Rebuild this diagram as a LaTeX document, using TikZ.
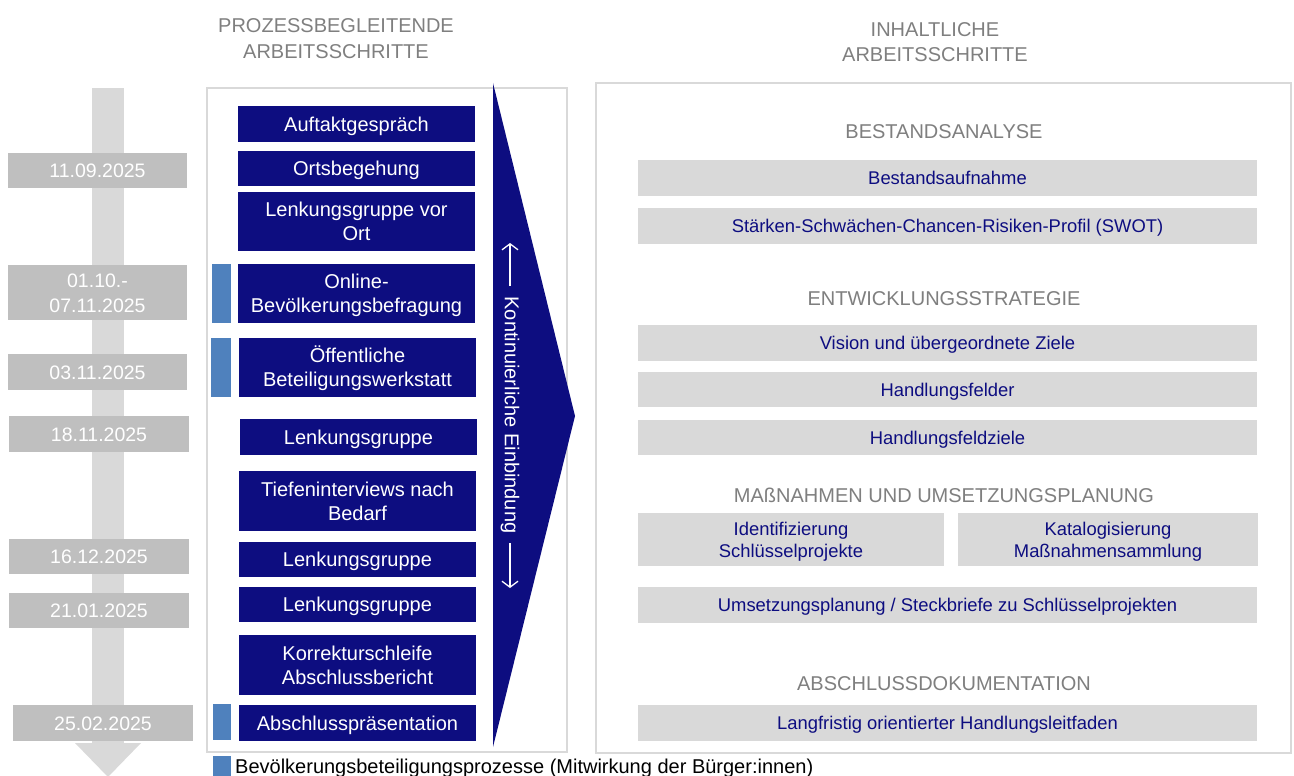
\documentclass[tikz,border=0pt]{standalone}
\usepackage{fontspec}
\setmainfont{Liberation Sans}
\usetikzlibrary{arrows.meta}
\definecolor{navy}{RGB}{13,13,128}
\definecolor{partblue}{RGB}{79,129,189}
\definecolor{bargray}{RGB}{217,217,217}
\definecolor{dategray}{RGB}{191,191,191}
\definecolor{hdgray}{RGB}{127,127,127}
\definecolor{boxgray}{RGB}{217,217,217}
\definecolor{framegray}{RGB}{217,217,217}
\newcommand{\bx}[7]{\node[#2,minimum width={(#5-#3)*1pt},minimum height={(#6-#4)*1pt}] (#1) at ({(#3+#5)/2},{(#4+#6)/2}) {#7};}
\newcommand{\tl}[2]{\begin{tabular}[t]{@{}c@{}}#1\\#2\end{tabular}}
\begin{document}
\begin{tikzpicture}[x=1pt,y=-1pt,
  bluebox/.style={fill=navy,text=white,inner sep=0pt,font=\fontsize{20}{24}\selectfont,text height=14.3pt,text depth=0pt},
  bluebox2/.style={bluebox,text depth=24pt},
  datebox/.style={fill=dategray,text=white,inner sep=0pt,font=\fontsize{19.5}{25}\selectfont,text height=14pt,text depth=0pt},
  datebox2/.style={datebox,text depth=25pt},
  graybox/.style={fill=boxgray,text=navy,inner sep=0pt,font=\fontsize{18.4}{22}\selectfont,text height=13.4pt,text depth=0pt},
  graybox2/.style={graybox,text depth=22pt},
  partmark/.style={fill=partblue,inner sep=0pt},
  hd/.style={text=hdgray,inner sep=0pt,anchor=base,font=\fontsize{20}{25.5}\selectfont},
  frame/.style={draw=framegray,line width=1.2pt,fill=white},
  warrow/.style={white,line width=1.3pt,-{Straight Barb[length=6pt,width=16pt]}}
]
\useasboundingbox (0,0) rectangle (1294,776);

% headers
\node[hd] (hleft) at (336,33) {\tl{PROZESSBEGLEITENDE}{ARBEITSSCHRITTE}};
\node[hd,font=\fontsize{20}{24.7}\selectfont] (hright) at (935,37) {\tl{INHALTLICHE}{ARBEITSSCHRITTE}};

% frames
\draw[frame] (207,88) rectangle (567,752);
\draw[frame] (596,83) rectangle (1291,753);

% timeline
\fill[bargray] (92,88) rectangle (124,744);
\fill[bargray] (75,743) -- (141,743) -- (108,777) -- cycle;

% dates
\bx{d1}{datebox}{8}{153}{187}{188}{11.09.2025}
\bx{d2}{datebox2}{8}{265}{187}{320}{\tl{01.10.-}{07.11.2025}}
\bx{d3}{datebox}{8}{354}{187}{390}{03.11.2025}
\bx{d4}{datebox}{9}{416}{189}{452}{18.11.2025}
\bx{d5}{datebox}{9}{539}{189}{574}{16.12.2025}
\bx{d6}{datebox}{9}{593}{189}{628}{21.01.2025}
\bx{d7}{datebox}{13}{705}{193}{741}{25.02.2025}

% process boxes
\bx{b1}{bluebox}{238}{106}{475}{142}{Auftaktgespräch}
\bx{b2}{bluebox}{238}{151}{475}{186}{Ortsbegehung}
\bx{b3}{bluebox2}{238}{192}{475}{251}{\tl{Lenkungsgruppe vor}{Ort}}
\bx{b4}{bluebox2}{238}{264}{475}{323}{\tl{Online-}{Bevölkerungsbefragung}}
\bx{b5}{bluebox2}{239}{338}{476}{397}{\tl{Öffentliche}{Beteiligungswerkstatt}}
\bx{b6}{bluebox}{240}{419}{477}{455}{Lenkungsgruppe}
\bx{b7}{bluebox2}{239}{471}{476}{531}{\tl{Tiefeninterviews nach}{Bedarf}}
\bx{b8}{bluebox}{239}{542}{476}{577}{Lenkungsgruppe}
\bx{b9}{bluebox}{239}{587}{476}{622}{Lenkungsgruppe}
\bx{b10}{bluebox2}{239}{635}{476}{695}{\tl{Korrekturschleife}{Abschlussbericht}}
\bx{b11}{bluebox}{239}{705}{476}{741}{Abschlusspräsentation}

% participation markers
\bx{m4}{partmark}{212}{264}{231}{323}{}
\bx{m5}{partmark}{211}{338}{231}{397}{}
\bx{m11}{partmark}{213}{704}{231}{740}{}
\bx{mleg}{partmark}{213}{756}{231}{777}{}
\node[anchor=base west,inner sep=0pt,font=\fontsize{20}{24}\selectfont] (leg) at (235,773) {Bevölkerungsbeteiligungsprozesse (Mitwirkung der Bürger:innen)};

% big arrow
\fill[navy] (493,83) -- (575,416) -- (493,747) -- cycle;
\node[rotate=-90,text=white,inner sep=0pt,font=\fontsize{20}{24}\selectfont] (kont) at (510,415) {Kontinuierliche Einbindung};
\coordinate (upa) at (510,286);
\coordinate (upb) at (510,243);
\coordinate (dna) at (510,543);
\coordinate (dnb) at (510,588);
\draw[warrow] (upa) -- (upb);
\draw[warrow] (dna) -- (dnb);

% right panel
\node[hd] (s1) at (944,138.5) {BESTANDSANALYSE};
\bx{r1}{graybox}{638}{160}{1257}{196}{Bestandsaufnahme}
\bx{r2}{graybox}{638}{208}{1257}{244}{Stärken-Schwächen-Chancen-Risiken-Profil (SWOT)}
\node[hd] (s2) at (944,305) {ENTWICKLUNGSSTRATEGIE};
\bx{r3}{graybox}{638}{325}{1257}{361}{Vision und übergeordnete Ziele}
\bx{r4}{graybox}{638}{372}{1257}{407}{Handlungsfelder}
\bx{r5}{graybox}{638}{420}{1257}{455}{Handlungsfeldziele}
\node[hd] (s3) at (944,502) {MAßNAHMEN UND UMSETZUNGSPLANUNG};
\bx{r6}{graybox2}{638}{513}{944}{566}{\tl{Identifizierung}{Schlüsselprojekte}}
\bx{r7}{graybox2}{958}{513}{1258}{566}{\tl{Katalogisierung}{Maßnahmensammlung}}
\bx{r8}{graybox}{638}{587}{1257}{623}{Umsetzungsplanung / Steckbriefe zu Schlüsselprojekten}
\node[hd] (s4) at (944,690) {ABSCHLUSSDOKUMENTATION};
\bx{r9}{graybox}{638}{705}{1257}{741}{Langfristig orientierter Handlungsleitfaden}
\end{tikzpicture}
\end{document}
